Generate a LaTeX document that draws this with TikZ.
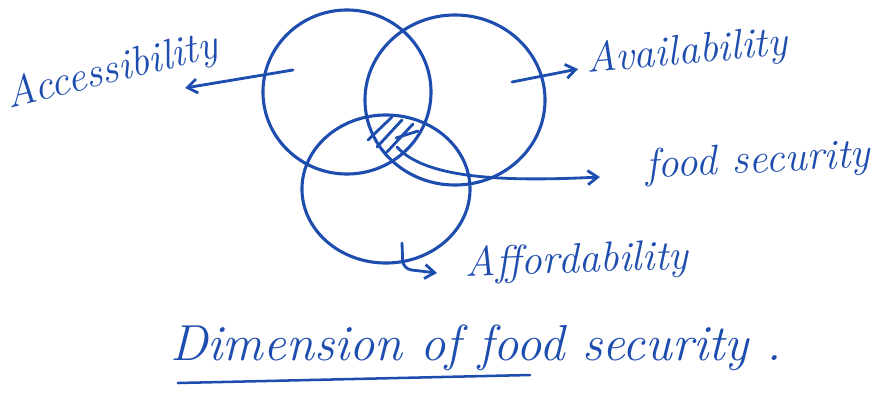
\documentclass[tikz,border=0pt]{standalone}
\usepackage{tikz}
\usetikzlibrary{positioning, arrows.meta, shapes.geometric}
\definecolor{clrink}{HTML}{1E4DB0}
\definecolor{clrpaper}{HTML}{FFFFFF}
\begin{document}
\begin{tikzpicture}[
    x=0.025cm, y=-0.025cm,
    >={Straight Barb[length=7pt, width=10pt]},
    every node/.style={font=\itshape, text=clrink},
    ring/.style={draw=clrink, ellipse, line width=2.2pt, inner sep=0},
    arrow/.style={->, color=clrink, line width=2pt, line cap=round, rounded corners=6pt},
    hatch/.style={color=clrink, line width=2pt, line cap=round},
    label/.style={font=\itshape\fontsize{30}{34}\selectfont, text=clrink, inner sep=0pt},
    title/.style={font=\itshape\fontsize{36}{42}\selectfont, text=clrink, inner sep=0pt},
]
\useasboundingbox[fill=clrpaper] (0,0) rectangle (884,403);
\node[ring, minimum width=4.2cm, minimum height=4.1cm] (n_acc) at (347,92) {};
\node[ring, minimum width=4.5cm, minimum height=4.25cm] (n_ava) at (455,100) {};
\node[ring, minimum width=4.2cm, minimum height=3.7cm] (n_aff) at (386,189) {};
\node[label, rotate=14] (n_acc_label) at (112,72) {Accessibility};
\node[label, rotate=5] (n_ava_label) at (687,53) {Availability};
\node[label, rotate=3] (n_fs_label) at (758,162) {food security};
\node[label, rotate=2] (n_aff_label) at (577,262) {Affordability};
\node[title] (n_title) at (476,348) {Dimension of food security .};
\coordinate (c_acc) at (293,70);
\coordinate (c_acc_tip) at (185,88);
\coordinate (c_ava) at (512,82);
\coordinate (c_ava_tip) at (578,69);
\coordinate (c_core) at (397,147);
\coordinate (c_fs_tip) at (600,177);
\coordinate (c_aff) at (402,243);
\coordinate (c_aff_tip) at (437,273);
\coordinate (c_line_start) at (178,383);
\coordinate (c_line_end) at (530,375);
\draw[arrow] (c_acc) -- (c_acc_tip);
\draw[arrow] (c_ava) -- (c_ava_tip);
\draw[arrow] (c_core) .. controls (425,178) and (500,182) .. (c_fs_tip);
\draw[arrow] (c_aff) -- ++(1,26) -- (c_aff_tip);
\draw[hatch] (368,140) -- (392,117);
\draw[hatch] (377,147) -- (402,120);
\draw[hatch] (387,152) -- (413,124);
\draw[hatch] (396,138) -- (418,131);
\draw[color=clrink, line width=1.8pt, line cap=round] (c_line_start) -- (c_line_end);
\end{tikzpicture}
\end{document}
